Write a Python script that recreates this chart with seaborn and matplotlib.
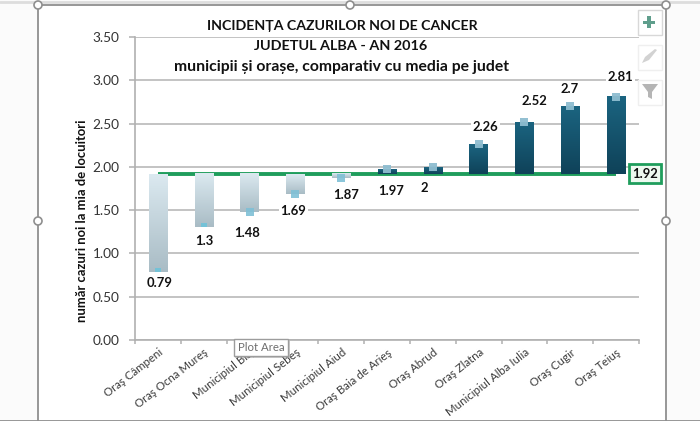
import numpy as np
import pandas as pd
import matplotlib
matplotlib.use("Agg")
import matplotlib.pyplot as plt
from matplotlib.patches import Rectangle, Circle, Polygon
from matplotlib.colors import LinearSegmentedColormap
from matplotlib.lines import Line2D
import seaborn as sns

# ---- data ----
categories = ["Oraş Câmpeni", "Oraş Ocna Mureş", "Municipiul Blaj", "Municipiul Sebeş",
              "Municipiul Aiud", "Oraş Baia de Arieş", "Oraş Abrud", "Oraş Zlatna",
              "Municipiul Alba Iulia", "Oraş Cugir", "Oraş Teiuş"]
values = [0.79, 1.3, 1.48, 1.69, 1.87, 1.97, 2, 2.26, 2.52, 2.7, 2.81]
mean_value = 1.92
y_ticks = [0, 0.5, 1, 1.5, 2, 2.5, 3, 3.5]
title_lines = ["INCIDENȚA CAZURILOR NOI DE CANCER", "JUDETUL ALBA - AN 2016",
               "municipii și orașe, comparativ cu media pe judet"]
y_title = "număr cazuri noi la mia de locuitori"

# ---- styling (label offsets in pixels) ----
label_dx = [2, 1, -2, -2, 5, 4, -9, 7, 10, -1, 4]
label_dy = [-11, -14, -21, -17, -17, -22, -21, 17, 21, 17, 20]

sns.set_theme(style="white")
plt.rcParams["font.family"] = ["Lato", "Noto Sans", "DejaVu Sans"]

W, H = 700, 421
fig = plt.figure(figsize=(W / 100, H / 100), dpi=100, facecolor="#fbfbfb")


def px(x, y):
    return x / W, 1 - y / H


# chart area background
fig.add_artist(Rectangle(px(38, 420), 628 / W, 415 / H, transform=fig.transFigure,
                         facecolor="white", edgecolor="none", zorder=-5))

ax = fig.add_axes([135 / W, 1 - 340 / H, 504 / W, 303 / H])
ax.patch.set_alpha(0)

df = pd.DataFrame({"cat": categories, "val": values})
df["mean"] = mean_value
df["pos"] = np.arange(len(df))

sns.barplot(data=df, x="cat", y="val", width=0.4, color="white", ax=ax, zorder=3, saturation=1)
ax.set_xlim(-0.5, len(df) - 0.5)
ax.set_ylim(0, 3.5)

# average line
sns.lineplot(data=df, x="pos", y="mean", color="#1f9d5c", lw=2.8, ax=ax, zorder=2.5,
             solid_capstyle="butt")

down_cmap = LinearSegmentedColormap.from_list("d", ["#a9bcc5", "#dbe9f0"])
up_cmap = LinearSegmentedColormap.from_list("u", ["#0f4259", "#1b6480"])

# float the bars from the average and give them a gradient
for patch, v in zip(ax.patches, values):
    low, high = sorted((v, mean_value))
    patch.set_y(low)
    patch.set_height(high - low)
    patch.set_alpha(0)
    x0 = patch.get_x()
    ax.imshow(np.linspace(0, 1, 64)[::-1].reshape(-1, 1),
              cmap=down_cmap if v < mean_value else up_cmap,
              extent=(x0, x0 + patch.get_width(), low, high),
              aspect="auto", zorder=3, interpolation="bilinear")
ax.set_xlim(-0.5, len(df) - 0.5)
ax.set_ylim(0, 3.5)

# markers at each value
half = [(-1, -0.1), (1, -0.1), (1, 1.2), (-1, 1.2), (-1, -0.1)]
sns.scatterplot(data=df.iloc[:2], x="pos", y="val", marker=half, s=30, color="#6fc3da",
                linewidth=0, alpha=0.9, ax=ax, zorder=4, legend=False)
sns.scatterplot(data=df.iloc[2:5], x="pos", y="val", marker="s", s=30, color="#7fc0d6",
                linewidth=0, alpha=0.9, ax=ax, zorder=4, legend=False)
sns.scatterplot(data=df.iloc[5:], x="pos", y="val", marker="s", s=34, color="#8ebdd0",
                linewidth=0, alpha=0.95, ax=ax, zorder=4, legend=False)

# data labels
for i, v in enumerate(values):
    ax.annotate(f"{v:g}", (i, v), xytext=(label_dx[i], label_dy[i]), textcoords="offset pixels",
                ha="center", va="center", fontsize=9.4, fontweight="bold", color="#111111",
                zorder=5, bbox=dict(fc="white", ec="none", pad=1.2), annotation_clip=False)

# average label box
ax.annotate(f"{mean_value:g}", (len(df) - 1, mean_value), xytext=(29, 0),
            textcoords="offset pixels", ha="center", va="center", fontsize=9.4,
            fontweight="bold", color="#111111", zorder=6, annotation_clip=False,
            bbox=dict(boxstyle="square,pad=0.26", fc="#eefaf0", ec="#1f9d5c", lw=2))

# axes styling
ax.set_yticks(y_ticks, [f"{t:.2f}" for t in y_ticks])
ax.set_xticks(np.arange(-0.5, len(df)), minor=True)
ax.set_xticks(np.arange(len(df)), categories)
ax.yaxis.grid(True, color="#b9b9b9", lw=1.2, zorder=0)
ax.xaxis.grid(False)
ax.set_axisbelow(True)
ax.tick_params(axis="y", which="major", length=4, width=1.1, color="#b0b0b0", labelsize=9.8,
               labelcolor="#333333", pad=7, left=True)
ax.tick_params(axis="x", which="major", length=0, labelsize=8.3, labelcolor="#3a3a3a", pad=5)
ax.tick_params(axis="x", which="minor", length=3, width=1.1, color="#b0b0b0", bottom=True)
for lab in ax.get_xticklabels():
    lab.set_rotation(38)
    lab.set_ha("right")
    lab.set_rotation_mode("anchor")
for s in ("top", "right"):
    ax.spines[s].set_visible(False)
for s in ("left", "bottom"):
    ax.spines[s].set_color("#b0b0b0")
    ax.spines[s].set_linewidth(1.2)
ax.set_xlabel("")
ax.set_ylabel("")

# titles
for line, cx, cy, fs in zip(title_lines, [342, 341, 341], [26, 46, 67], [10.2, 10.4, 11.3]):
    fig.text(*px(cx, cy), line, ha="center", va="center", fontsize=fs, fontweight="bold",
             color="#111111", zorder=6)
fig.text(*px(82, 221), y_title, rotation=90, ha="center", va="center", fontsize=9.4,
         fontweight="bold", color="#111111")

# selection frame of the chart
frame = "#8f8f8f"
for xs, ys in (([38, 38], [5, 421]), ([666, 666], [5, 421]), ([38, 666], [5, 5]), ([0, 700], [420.5, 420.5])):
    fig.add_artist(Line2D([x / W for x in xs], [1 - y / H for y in ys], color=frame, lw=1.3, zorder=7))
fig.add_artist(Line2D([0, 1], [1 - 2 / H] * 2, color="#dddddd", lw=2, zorder=6))

# overlay: handles, side buttons and tooltip
sc = fig.add_axes([0, 0, 1, 1], facecolor="none", zorder=8)
sc.set_xlim(0, W)
sc.set_ylim(H, 0)
sc.axis("off")
for cx, cy in ((38, 5), (350, 5), (666, 5), (38, 221), (666, 221)):
    sc.add_patch(Circle((cx, cy), 4, fc="white", ec=frame, lw=1.2))
for by, ec in ((22, "#d8d8d8"), (57, "#efefef"), (92, "#efefef")):
    sc.add_patch(Rectangle((638, by - 12.5), 24, 25, fc="white", ec=ec, lw=1))
sc.add_patch(Rectangle((643, 20.5), 12, 3.2, fc="#5f9e8c", ec="none"))
sc.add_patch(Rectangle((647.4, 16), 3.2, 12, fc="#5f9e8c", ec="none"))
sc.add_patch(Polygon([(642, 63), (645, 57), (655, 49), (657, 50), (649, 60)], fc="#d2d2d2", ec="none"))
sc.add_patch(Polygon([(642, 84), (658, 84), (652, 92), (652, 99), (648, 97), (648, 92)],
                     fc="#b5b5b5", ec="none"))
sc.add_patch(Rectangle((235, 340.5), 55, 17, fc="#9a9a9a", ec="none", alpha=0.5))
sc.add_patch(Rectangle((233.5, 339), 54.5, 17, fc="white", ec="#9c9c9c", lw=1))
sc.text(261, 347.5, "Plot Area", ha="center", va="center", fontsize=8.2, color="#6e6e6e")

fig.savefig("out.png", dpi=100, facecolor=fig.get_facecolor())
